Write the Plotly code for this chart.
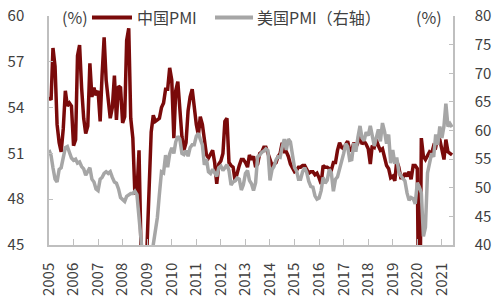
import pandas as pd
import plotly.graph_objects as go

# Monthly data, Jan 2005 - Jun 2021
months = pd.date_range("2005-01-01", "2021-06-01", freq="MS")

china_pmi = [
    # 2005
    54.7, 54.5, 57.9, 56.7, 52.9, 51.7, 51.1, 52.6, 55.1, 54.1, 54.3, 54.1,
    # 2006
    51.5, 51.9, 57.4, 58.1, 55.3, 53.3, 52.3, 52.8, 56.9, 54.7, 55.3, 54.8,
    # 2007
    55.1, 53.1, 56.1, 58.6, 55.8, 54.5, 53.3, 54.0, 56.1, 53.2, 55.4, 55.3,
    # 2008
    53.0, 53.4, 58.4, 59.2, 53.3, 52.0, 48.4, 48.4, 51.2, 44.6, 38.8, 41.2,
    # 2009
    45.3, 49.0, 52.4, 53.5, 53.1, 53.2, 53.3, 54.0, 54.3, 55.2, 55.2, 56.6,
    # 2010
    55.8, 52.0, 55.1, 55.7, 53.9, 52.1, 51.2, 51.7, 53.8, 54.7, 55.2, 53.9,
    # 2011
    52.9, 52.2, 53.4, 52.9, 52.0, 50.9, 50.7, 50.9, 51.2, 50.4, 49.0, 50.3,
    # 2012
    50.5, 51.0, 53.1, 53.3, 50.4, 50.2, 50.1, 49.2, 49.8, 50.2, 50.6, 50.6,
    # 2013
    50.4, 50.1, 50.9, 50.6, 50.8, 50.1, 50.3, 51.0, 51.1, 51.4, 51.4, 51.0,
    # 2014
    50.5, 50.2, 50.3, 50.4, 50.8, 51.0, 51.7, 51.1, 51.1, 50.8, 50.3, 50.1,
    # 2015
    49.8, 49.9, 50.1, 50.1, 50.2, 50.2, 50.0, 49.7, 49.8, 49.8, 49.6, 49.7,
    # 2016
    49.4, 49.0, 50.2, 50.1, 50.1, 50.0, 49.9, 50.4, 50.4, 51.2, 51.7, 51.4,
    # 2017
    51.3, 51.6, 51.8, 51.2, 51.2, 51.7, 51.4, 51.7, 52.4, 51.6, 51.8, 51.6,
    # 2018
    51.3, 50.3, 51.5, 51.4, 51.9, 51.5, 51.2, 51.3, 50.8, 50.2, 50.0, 49.4,
    # 2019
    49.5, 49.2, 50.5, 50.1, 49.4, 49.4, 49.7, 49.5, 49.8, 49.3, 50.2, 50.2,
    # 2020
    50.0, 35.7, 52.0, 50.8, 50.6, 50.9, 51.1, 51.0, 51.5, 51.4, 52.1, 51.9,
    # 2021
    51.3, 50.6, 51.9, 51.1, 51.0, 50.9,
]

us_pmi = [
    # 2005
    56.6, 55.6, 53.5, 51.5, 51.0, 53.2, 53.5, 55.0, 57.0, 57.2, 56.0, 55.2,
    # 2006
    54.8, 55.0, 54.3, 54.5, 53.7, 53.3, 52.2, 53.0, 53.5, 51.5, 51.0, 49.8,
    # 2007
    49.5, 51.5, 51.8, 52.5, 52.8, 52.5, 52.8, 51.8, 51.0, 50.8, 49.8, 48.3,
    # 2008
    48.0, 47.6, 48.5, 48.8, 49.0, 49.0, 49.4, 48.8, 44.0, 38.9, 36.2, 33.1,
    # 2009
    35.6, 35.8, 36.3, 40.1, 42.8, 44.8, 48.9, 52.8, 52.6, 55.7, 53.6, 55.9,
    # 2010
    57.0, 56.0, 58.0, 59.0, 58.5, 56.0, 55.8, 56.5, 55.5, 57.0, 57.5, 57.5,
    # 2011
    59.0, 59.5, 58.5, 57.5, 54.0, 55.0, 52.8, 52.5, 53.2, 52.6, 52.0, 53.5,
    # 2012
    53.8, 53.0, 53.5, 54.0, 53.0, 50.5, 51.0, 51.2, 51.7, 51.5, 49.6, 50.5,
    # 2013
    52.5, 53.0, 51.3, 50.7, 49.5, 50.9, 55.4, 55.7, 56.2, 56.4, 56.8, 56.5,
    # 2014
    51.3, 53.2, 53.7, 54.9, 55.4, 55.3, 57.1, 58.5, 56.6, 58.5, 58.0, 55.5,
    # 2015
    53.5, 52.9, 51.5, 51.5, 52.8, 53.5, 52.7, 51.1, 50.2, 50.1, 48.6, 48.0,
    # 2016
    48.2, 49.5, 51.8, 50.8, 51.3, 53.2, 52.6, 49.4, 51.5, 51.9, 53.2, 54.7,
    # 2017
    56.0, 57.7, 57.2, 54.8, 54.9, 57.8, 56.3, 58.8, 60.8, 58.7, 58.2, 59.7,
    # 2018
    59.1, 60.8, 59.3, 57.3, 58.7, 60.2, 58.1, 61.3, 59.8, 57.7, 59.3, 54.3,
    # 2019
    56.6, 54.2, 55.3, 52.8, 52.1, 51.7, 51.2, 49.1, 47.8, 48.3, 48.1, 47.2,
    # 2020
    50.9, 50.1, 49.1, 41.5, 43.1, 52.6, 54.2, 56.0, 55.4, 59.3, 57.5, 60.7,
    # 2021
    58.7, 60.8, 64.7, 60.7, 61.2, 60.6,
]

year_ticks = [str(y) for y in range(2005, 2022)]
left_ticks = [45, 48, 51, 54, 57, 60]
right_ticks = [40, 45, 50, 55, 60, 65, 70, 75, 80]

series_names = ["中国PMI", "美国PMI（右轴）"]
RED = "#7A0A0A"
GRAY = "#A6A6A6"
AXIS = "#BFBFBF"
TXT = "#404040"
FONT = "Noto Sans CJK SC"

fig = go.Figure()
fig.add_trace(go.Scatter(x=months, y=china_pmi, mode="lines", name=series_names[0],
                         line=dict(color=RED, width=3.5), yaxis="y", showlegend=False))
fig.add_trace(go.Scatter(x=months, y=us_pmi, mode="lines", name=series_names[1],
                         line=dict(color=GRAY, width=3.5), yaxis="y2", showlegend=False))

# manual legend (line keys + labels) and unit labels
ly = 0.9935
fig.add_shape(type="line", xref="paper", yref="paper", x0=0.1064, x1=0.2054, y0=ly, y1=ly,
              line=dict(color=RED, width=4))
fig.add_shape(type="line", xref="paper", yref="paper", x0=0.4109, x1=0.5050, y0=ly, y1=ly,
              line=dict(color=GRAY, width=4))
ann_font = dict(family=FONT, size=16, color=TXT)
fig.add_annotation(xref="paper", yref="paper", x=0.2129, y=ly, text=series_names[0],
                   showarrow=False, xanchor="left", yanchor="middle", font=ann_font)
fig.add_annotation(xref="paper", yref="paper", x=0.5099, y=ly, text=series_names[1],
                   showarrow=False, xanchor="left", yanchor="middle", font=ann_font)
fig.add_annotation(xref="paper", yref="paper", x=0.027, y=ly, text="(%)",
                   showarrow=False, xanchor="left", yanchor="middle", font=ann_font)
fig.add_annotation(xref="paper", yref="paper", x=0.977, y=ly, text="(%)",
                   showarrow=False, xanchor="right", yanchor="middle", font=ann_font)

tick_font = dict(family=FONT, size=15, color=TXT)
fig.update_layout(
    width=500, height=301,
    margin=dict(l=49, r=47, t=16, b=56, autoexpand=False),
    paper_bgcolor="white", plot_bgcolor="white",
    font=dict(family=FONT, size=15, color=TXT),
    xaxis=dict(
        type="date",
        range=["2005-01-01", "2021-06-15"],
        tickvals=[f"{y}-01-01" for y in year_ticks],
        ticktext=year_ticks,
        tickangle=-90,
        ticks="inside", ticklen=6, tickcolor=AXIS, tickwidth=1,
        showline=True, linecolor=AXIS, linewidth=1.5,
        showgrid=False, zeroline=False, automargin=False,
        tickfont=tick_font, ticklabelstandoff=10,
    ),
    yaxis=dict(
        range=[45, 60], tickvals=left_ticks,
        ticks="inside", ticklen=4, tickcolor=AXIS,
        showline=True, linecolor=AXIS, linewidth=1.5,
        showgrid=False, zeroline=False, automargin=False,
        tickfont=tick_font, ticklabelstandoff=20,
    ),
    yaxis2=dict(
        range=[40, 80], tickvals=right_ticks,
        overlaying="y", side="right",
        ticks="inside", ticklen=4, tickcolor=AXIS,
        showline=True, linecolor=AXIS, linewidth=1.5,
        showgrid=False, zeroline=False, automargin=False,
        tickfont=tick_font, ticklabelstandoff=17,
    ),
)

fig.write_html("out.html")
